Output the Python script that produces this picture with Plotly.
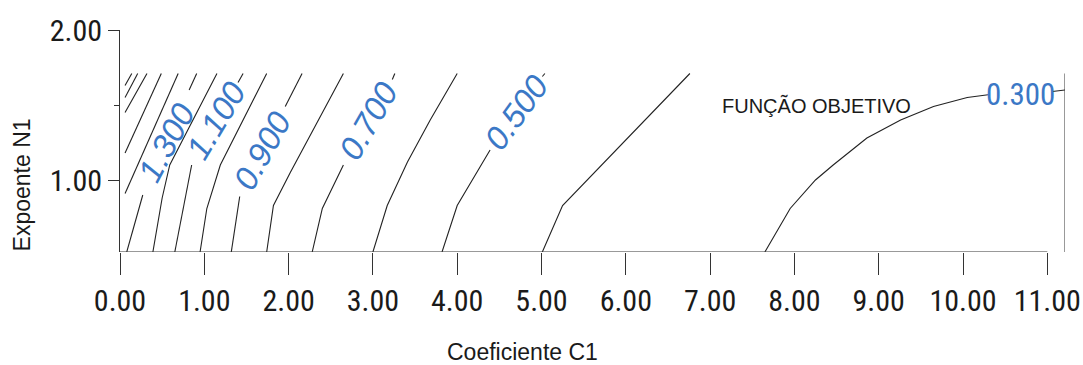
import plotly.graph_objects as go

# Objective-function contour lines over Coeficiente C1 (x) and Expoente N1 (y).
# One polyline per level; None marks a break where the level label sits.
levels = [0.3, 0.4, 0.5, 0.6, 0.7, 0.8, 0.9, 1.0, 1.1, 1.2, 1.3, 1.4, 1.5, 1.6, 1.7, 1.8]

contour_c1 = [
    [7.65, 7.95, 8.25, 8.46, 8.86, 9.26, 9.65, 10.05, 10.32, None, 11.06, 11.21],
    [5.01, 5.25, 6.76],
    [3.82, 4.00, 4.39, None, 5.01, 5.04],
    [3.00, 3.17, 3.41, 3.68, 4.00],
    [2.28, 2.40, 2.65, None, 3.23, 3.26],
    [1.74, 1.82, 2.02, 2.65],
    [1.32, 1.40, 1.42, None, 1.96, 2.16],
    [0.95, 1.03, 1.19, 1.74],
    [0.65, 0.74, 0.85, None, 1.40, 1.46],
    [0.39, 0.50, 0.59, 1.15],
    [0.08, 0.27, None, 0.82, 0.91],
    [0.06, 0.69],
    [0.06, 0.49],
    [0.06, 0.32],
    [0.06, 0.21],
    [0.06, 0.14],
]
contour_n1 = [
    [0.52, 0.81, 1.00, 1.10, 1.28, 1.40, 1.49, 1.55, 1.57, None, 1.59, 1.60],
    [0.52, 0.83, 1.71],
    [0.52, 0.83, 1.20, None, 1.69, 1.71],
    [0.52, 0.83, 1.12, 1.40, 1.71],
    [0.52, 0.81, 1.10, None, 1.67, 1.71],
    [0.52, 0.83, 1.05, 1.71],
    [0.52, 0.83, 0.89, None, 1.49, 1.71],
    [0.52, 0.81, 1.10, 1.71],
    [0.52, 0.79, 1.10, None, 1.65, 1.71],
    [0.52, 0.88, 1.10, 1.71],
    [0.52, 0.90, None, 1.60, 1.71],
    [0.91, 1.71],
    [1.18, 1.71],
    [1.45, 1.71],
    [1.55, 1.71],
    [1.63, 1.71],
]

# Extent of the computed field
c1_max = 11.21
n1_min = 0.52
n1_max = 1.71

c1_ticks = [0, 1, 2, 3, 4, 5, 6, 7, 8, 9, 10, 11]
n1_ticks = [1, 2]
n1_top = 2.0

# Labelled levels: (level, C1, N1, text angle, italic)
level_labels = [
    (1.3, 0.55, 1.25, -62, True),
    (1.1, 1.135, 1.40, -59, True),
    (0.9, 1.69, 1.195, -61, True),
    (0.7, 2.95, 1.395, -60, True),
    (0.5, 4.70, 1.45, -54, True),
    (0.3, 10.68, 1.573, 0, False),
]

SANS = "Liberation Sans, Arial, sans-serif"
NARROW = "Roboto Condensed, Liberation Sans Narrow, sans-serif"
LABEL_BLUE = "#3b78c6"
INK = "#1a1a1a"

fig = go.Figure()

for lvl, xs, ys in zip(levels, contour_c1, contour_n1):
    fig.add_trace(go.Scatter(
        x=xs, y=ys, mode="lines", name=f"{lvl:.3f}",
        line=dict(color="#222222", width=1.1),
        connectgaps=False, showlegend=False, hoverinfo="skip",
    ))

for lvl, cx, cy, ang, italic in level_labels:
    fig.add_annotation(
        x=cx, y=cy, xref="x", yref="y", text=f"{lvl:.3f}", showarrow=False,
        textangle=ang,
        font=dict(family=SANS if italic else NARROW,
                  size=33 if italic else 31,
                  color=LABEL_BLUE, style="italic" if italic else "normal"),
    )

fig.add_annotation(
    x=8.26, y=1.50, xref="x", yref="y", text="FUNÇÃO OBJETIVO", showarrow=False,
    font=dict(family=SANS, size=20, color=INK),
)

# Axis titles
fig.add_annotation(
    x=0, y=0.30, xref="paper", yref="paper", xshift=-98, textangle=-90,
    text="Expoente N1", showarrow=False, xanchor="center", yanchor="middle",
    font=dict(family=SANS, size=23, color=INK),
)
fig.add_annotation(
    x=0.5, y=0, xref="paper", yref="paper", xshift=-70, yshift=-100,
    text="Coeficiente C1", showarrow=False, xanchor="center", yanchor="middle",
    font=dict(family=SANS, size=23, color=INK),
)

# Frame: bottom line along the tick span, right edge of the field
fig.add_shape(type="line", xref="x", yref="y",
              x0=c1_ticks[0], x1=c1_ticks[-1], y0=n1_min, y1=n1_min,
              line=dict(color="#333333", width=1))
fig.add_shape(type="line", xref="x", yref="y",
              x0=c1_max, x1=c1_max, y0=n1_min, y1=n1_max,
              line=dict(color="#333333", width=1))

top_pos = (n1_max - n1_min) / (n1_top - n1_min)

fig.update_layout(
    width=1083, height=365,
    margin=dict(l=120, r=18, t=30, b=113, autoexpand=False),
    paper_bgcolor="white", plot_bgcolor="white",
    showlegend=False,
    xaxis=dict(
        range=[0, c1_max], tickvals=c1_ticks, tickformat=".2f", tickangle=0,
        ticks="outside", ticklen=22, tickwidth=1, tickcolor="#333333",
        showline=False, showgrid=False, zeroline=False, automargin=False,
        ticklabeloverflow="allow",
        tickfont=dict(family=NARROW, size=30, color=INK),
    ),
    xaxis2=dict(
        overlaying="x", anchor="free", position=top_pos, side="top",
        range=[0, c1_max], tickvals=c1_ticks[1:], showticklabels=False,
        ticks="outside", ticklen=18, tickwidth=1, tickcolor="#333333",
        showline=True, linecolor="#333333", linewidth=1,
        showgrid=False, zeroline=False, automargin=False,
    ),
    yaxis=dict(
        range=[n1_min, n1_top], tickvals=n1_ticks, tickformat=".2f",
        ticks="outside", ticklen=11, tickwidth=1, tickcolor="#333333",
        minor=dict(tickvals=[1.5], ticks="outside", ticklen=5, tickcolor="#333333"),
        showline=True, linecolor="#333333", linewidth=1,
        showgrid=False, zeroline=False, automargin=False,
        tickfont=dict(family=NARROW, size=30, color=INK),
    ),
)

fig.write_html("out.html")
